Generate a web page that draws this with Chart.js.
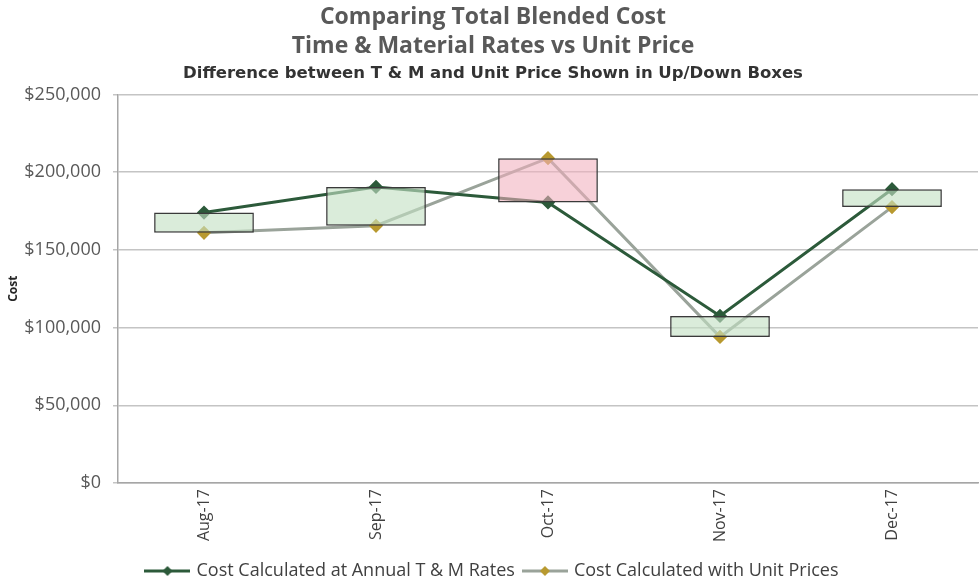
<!DOCTYPE html>
<html>
<head>
<meta charset="utf-8">
<script src="https://cdn.jsdelivr.net/npm/chart.js@4.4.1/dist/chart.umd.min.js"></script>
<style>
html,body{margin:0;padding:0;background:#fff;overflow:hidden;}
#wrap{width:986px;height:581px;}
</style>
</head>
<body>
<div id="wrap"><canvas id="c"></canvas></div>
<script>
const categories = ['Aug-17','Sep-17','Oct-17','Nov-17','Dec-17'];
const tmRates   = [174000, 190500, 180500, 107500, 189000];
const unitPrice = [161000, 165500, 209000,  94000, 177500];
const yTicks = [0, 50000, 100000, 150000, 200000, 250000];
const seriesNames = ['Cost Calculated at Annual T & M Rates', 'Cost Calculated with Unit Prices'];

const boxes = categories.map((c,i)=>[Math.min(tmRates[i],unitPrice[i]), Math.max(tmRates[i],unitPrice[i])]);
const boxColors = categories.map((c,i)=> tmRates[i] >= unitPrice[i] ? 'rgba(196,224,196,0.62)' : 'rgba(242,176,190,0.58)');

const GREEN = '#2c5a3a', GRAY = '#9aa39a', GOLD = '#b8992f';
const FONT = '"Open Sans"';

function legendIcon(lineColor, pointColor){
  const cv = document.createElement('canvas');
  cv.width = 46; cv.height = 12;
  const g = cv.getContext('2d');
  g.strokeStyle = lineColor; g.lineWidth = 3;
  g.beginPath(); g.moveTo(0,6); g.lineTo(46,6); g.stroke();
  g.fillStyle = pointColor;
  g.beginPath(); g.moveTo(23,1); g.lineTo(28,6); g.lineTo(23,11); g.lineTo(18,6); g.closePath(); g.fill();
  return cv;
}
const icons = [legendIcon(GREEN, GREEN), legendIcon(GRAY, GOLD)];

new Chart(document.getElementById('c'), {
  data: {
    labels: categories,
    datasets: [
      { type:'bar', label:'diff', data: boxes, backgroundColor: boxColors, borderColor:'#3a3a3a', borderWidth:1.5, borderSkipped:false, categoryPercentage:1, barPercentage:0.58, order:0 },
      { type:'line', label: seriesNames[0], data: tmRates, borderColor: GREEN, backgroundColor: GREEN, borderWidth:3, pointStyle:'rectRot', pointRadius:5, pointBackgroundColor:GREEN, pointBorderColor:GREEN, tension:0, order:1 },
      { type:'line', label: seriesNames[1], data: unitPrice, borderColor: GRAY, backgroundColor: GOLD, borderWidth:3, pointStyle:'rectRot', pointRadius:5, pointBackgroundColor:GOLD, pointBorderColor:GOLD, tension:0, order:2 }
    ]
  },
  options: {
    responsive:true, maintainAspectRatio:false, animation:false,
    layout:{ padding:{ left:0, right:0, top:0, bottom:-9 } },
    plugins:{
      tooltip:{enabled:false},
      title:{ display:true, text:['Comparing Total Blended Cost','Time & Material Rates vs Unit Price'], color:'#595959', font:{family:FONT, size:23, weight:'bold', lineHeight:1.26}, padding:{top:2.5,bottom:0} },
      subtitle:{ display:true, text:'Difference between T & M and Unit Price Shown in Up/Down Boxes', color:'#333333', font:{family:'"DejaVu Sans"', size:16.5, weight:'bold', lineHeight:1.15}, padding:{top:4,bottom:11} },
      legend:{ position:'bottom', labels:{
        font:{family:FONT, size:18}, color:'#404040', usePointStyle:true, pointStyleWidth:40, boxHeight:12, padding:10,
        filter:(item)=> item.datasetIndex>0,
        generateLabels:(chart)=>{
          const items = Chart.defaults.plugins.legend.labels.generateLabels(chart);
          items.forEach(it=>{ if(it.datasetIndex>0){ it.pointStyle = icons[it.datasetIndex-1]; } });
          return items;
        }
      } }
    },
    scales:{
      x:{ type:'category', offset:true,
        grid:{ display:false, drawTicks:false },
        border:{ display:true, color:'#a6a6a6', width:1.5 },
        ticks:{ minRotation:90, maxRotation:90, padding:6, color:'#404040', font:{family:FONT, size:16} },
        afterFit:(s)=>{ s.height = 69; }
      },
      y:{ min:0, max:250000,
        afterBuildTicks:(s)=>{ s.ticks = yTicks.map(v=>({value:v})); },
        grid:{ color:'#c4c4c4', lineWidth:1.5, tickLength:5 },
        border:{ display:true, color:'#a6a6a6', width:1.5 },
        ticks:{ color:'#595959', padding:12, font:{family:FONT, size:18}, callback:(v)=>'$'+Number(v).toLocaleString('en-US') },
        title:{ display:true, text:'Cost', color:'#262626', font:{family:FONT, size:12, weight:'bold'}, padding:{top:6,bottom:0} },
        afterFit:(s)=>{ s.width = 118; }
      }
    }
  }
});
</script>
</body>
</html>
